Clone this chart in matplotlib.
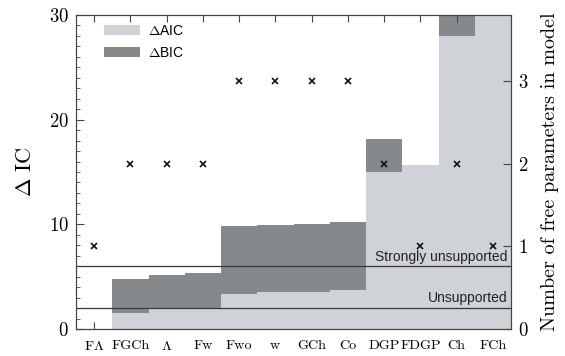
import numpy as np
import matplotlib.pyplot as plt
from matplotlib.patches import Patch
from matplotlib.ticker import MultipleLocator

# Computer Modern look for axes text
plt.rcParams['font.family'] = 'serif'
plt.rcParams['font.serif'] = ['cmr10']
plt.rcParams['mathtext.fontset'] = 'cm'
plt.rcParams['axes.formatter.use_mathtext'] = True

models = [r'$\mathrm{F}\Lambda$', 'FGCh', r'$\Lambda$', 'Fw', 'Fwo', 'w',
          'GCh', 'Co', 'DGP', 'FDGP', 'Ch', 'FCh']
# information criteria relative to the best model
d_aic = [0.0, 1.5, 1.9, 2.0, 3.35, 3.5, 3.5, 3.7, 15.0, 15.7, 28.0, 35.0]
d_bic = [0.0, 4.8, 5.2, 5.35, 9.85, 9.95, 10.0, 10.2, 18.2, 15.7, 31.2, 35.0]
# free parameters per model
n_par = [1, 2, 2, 2, 3, 3, 3, 3, 2, 1, 2, 1]

light = '#cfd2d6'
dark = '#85898c'
sans = 'Liberation Sans'
x = np.arange(len(models))

fig = plt.figure(figsize=(5.65, 3.56), dpi=100)
ax = fig.add_axes([76/565, 1-329/356, (511-76)/565, (329-15)/356])

ax.bar(x, d_bic, width=1.0, color=dark, linewidth=0, zorder=1)
ax.bar(x, d_aic, width=1.0, color=light, linewidth=0, zorder=2)

ax.axhline(2, color='#3a3a3a', lw=0.9, zorder=3)
ax.axhline(6, color='#3a3a3a', lw=0.9, zorder=3)
ax.text(11.39, 2.25, 'Unsupported', ha='right', va='bottom',
        family=sans, fontsize=10, color='#222222', zorder=4)
ax.text(11.39, 6.25, 'Strongly unsupported', ha='right', va='bottom',
        family=sans, fontsize=10, color='#222222', zorder=4)

ax.set_xlim(-0.5, 11.5)
ax.set_ylim(0, 30)
ax.set_xticks(x)
ax.set_xticklabels(models, fontsize=10.2)
ax.yaxis.set_major_locator(MultipleLocator(10))
ax.yaxis.set_minor_locator(MultipleLocator(1))
ax.tick_params(axis='x', direction='in', top=True, length=5, pad=8,
               color='#444444')
ax.tick_params(axis='y', which='major', direction='in', length=6, pad=5,
               labelsize=13.5, color='#444444')
ax.tick_params(axis='y', which='minor', direction='in', length=3,
               color='#444444')
ax.set_ylabel(r'$\Delta$ IC', fontsize=16, labelpad=10)
for s in ax.spines.values():
    s.set_color('#444444')

leg = ax.legend(handles=[Patch(facecolor=light, label=r'$\Delta$AIC'),
                         Patch(facecolor=dark, label=r'$\Delta$BIC')],
                loc='upper left', bbox_to_anchor=(104/565, 1-24/356),
                bbox_transform=fig.transFigure, frameon=False,
                borderpad=0, borderaxespad=0, handlelength=2.6,
                handleheight=0.75, handletextpad=0.55, labelspacing=0.55,
                prop={'family': sans, 'size': 10})

ax2 = ax.twinx()
ax2.plot(x, n_par, 'x', color='#111111', ms=5, mew=1.2)
ax2.set_ylim(0, 3.8)
ax2.set_yticks([0, 1, 2, 3])
ax2.tick_params(axis='y', direction='in', length=6, pad=5, labelsize=13.5,
                color='#444444')
ax2.set_ylabel('Number of free parameters in model', fontsize=14.5,
               labelpad=9)
for s in ax2.spines.values():
    s.set_color('#444444')

fig.savefig('out.png', dpi=100)
